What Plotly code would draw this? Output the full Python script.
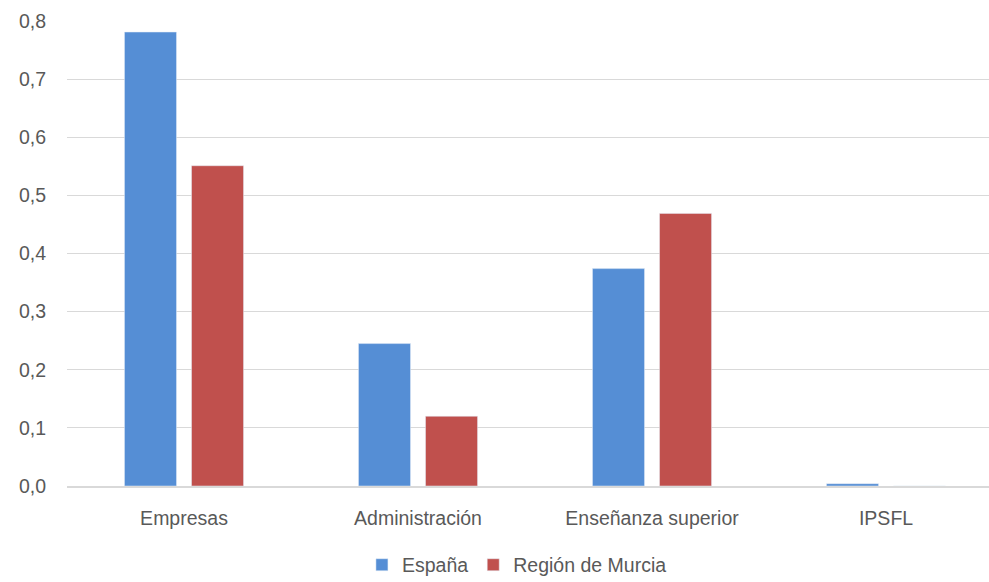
import plotly.graph_objects as go

categories = ["Empresas", "Administración", "Enseñanza superior", "IPSFL"]
espana = [0.781, 0.245, 0.374, 0.004]
murcia = [0.551, 0.120, 0.469, 0.0]
y_ticks = [0.0, 0.1, 0.2, 0.3, 0.4, 0.5, 0.6, 0.7, 0.8]
y_tick_labels = ["0,0", "0,1", "0,2", "0,3", "0,4", "0,5", "0,6", "0,7", "0,8"]

font_family = "Liberation Sans, Arial, sans-serif"
grey = "#595959"
fs = 19.5

fig = go.Figure()
fig.add_trace(go.Bar(x=categories, y=espana, name="España", marker_color="#558ED5"))
fig.add_trace(go.Bar(x=categories, y=murcia, name="Región de Murcia", marker_color="#C0504D"))

fig.update_layout(
    width=989, height=582,
    margin=dict(l=67, r=0, t=21, b=96, autoexpand=False),
    paper_bgcolor="white", plot_bgcolor="white",
    barmode="group", bargap=0.427, bargroupgap=0.224,
    font=dict(family=font_family, size=fs, color=grey),
    showlegend=True,
    legend=dict(orientation="h", x=0.488, xanchor="center", y=-0.17, yanchor="middle",
                font=dict(size=fs, color=grey), itemwidth=30, traceorder="normal"),
    xaxis=dict(range=[-0.5, 3.44], showline=True, linecolor="#D9D9D9", linewidth=1.5,
               ticks="", tickfont=dict(size=fs, color=grey), showgrid=False,
               ticklabelstandoff=14),
    yaxis=dict(range=[0, 0.8], tickvals=y_ticks, ticktext=y_tick_labels,
               showgrid=True, gridcolor="#D9D9D9", gridwidth=1, zeroline=False,
               tickfont=dict(size=fs, color=grey), ticklabelstandoff=20),
)

fig.write_html("out.html", config={"displayModeBar": False},
               post_script="document.body.style.margin='0px';document.body.style.overflow='hidden';")
